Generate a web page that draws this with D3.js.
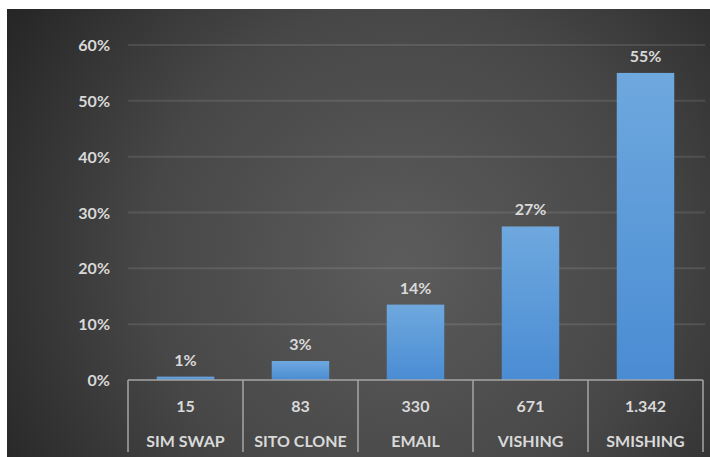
<!DOCTYPE html>
<html><head><meta charset="utf-8">
<script src="https://cdn.jsdelivr.net/npm/d3@7"></script>
<style>html,body{margin:0;padding:0;background:#fff;}svg{display:block;}</style>
</head><body>
<svg id="c" width="710" height="457"></svg>
<script>
const categories = ["SIM SWAP", "SITO CLONE", "EMAIL", "VISHING", "SMISHING"];
const counts = ["15", "83", "330", "671", "1.342"];
const shares = [0.6, 3.4, 13.5, 27.5, 55.0];
const shareLabels = ["1%", "3%", "14%", "27%", "55%"];
const yTicks = [0, 10, 20, 30, 40, 50, 60];

const svg = d3.select("#c");
const W = 710, H = 457;
const defs = svg.append("defs");
const bg = defs.append("radialGradient").attr("id", "bg")
  .attr("gradientUnits", "userSpaceOnUse").attr("cx", 400).attr("cy", 260).attr("r", 460);
bg.append("stop").attr("offset", "0%").attr("stop-color", "#5c5c5c");
bg.append("stop").attr("offset", "55%").attr("stop-color", "#474747");
bg.append("stop").attr("offset", "100%").attr("stop-color", "#262626");
const bar = defs.append("linearGradient").attr("id", "bar").attr("x1", 0).attr("y1", 0).attr("x2", 0).attr("y2", 1);
bar.append("stop").attr("offset", "0%").attr("stop-color", "#6ea8de");
bar.append("stop").attr("offset", "100%").attr("stop-color", "#4a8cd3");

svg.append("rect").attr("x", 7).attr("y", 9).attr("width", W - 7).attr("height", H - 9).attr("fill", "url(#bg)");

const font = "Lato, 'Open Sans', sans-serif";
const txt = "#d9d9d9";

const x = d3.scaleBand().domain(categories).range([128, 703]).paddingInner(0).paddingOuter(0);
const y = d3.scaleLinear().domain([0, 60]).range([380, 45]);

// gridlines
svg.append("g").selectAll("line").data(yTicks.filter(t => t > 0)).join("line")
  .attr("x1", 128).attr("x2", 705)
  .attr("y1", d => y(d)).attr("y2", d => y(d))
  .attr("stroke", "#ffffff").attr("stroke-opacity", 0.1).attr("stroke-width", 2);

// y axis labels
const yAxis = d3.axisLeft(y).tickValues(yTicks).tickFormat(d => d + "%").tickSize(0).tickPadding(0);
const ya = svg.append("g").attr("transform", "translate(110,0)").call(yAxis);
ya.select(".domain").remove();
ya.selectAll("text").attr("fill", txt).attr("font-family", font).attr("font-weight", "bold")
  .attr("font-size", 16).attr("dy", "0.35em");

// bars
const bw = x.bandwidth() * 0.5;
svg.append("g").selectAll("rect").data(categories).join("rect")
  .attr("x", (d) => x(d) + (x.bandwidth() - bw) / 2)
  .attr("width", bw)
  .attr("y", (d, i) => y(shares[i]))
  .attr("height", (d, i) => y(0) - y(shares[i]))
  .attr("fill", "url(#bar)");

// value labels
svg.append("g").selectAll("text").data(categories).join("text")
  .attr("x", d => x(d) + x.bandwidth() / 2)
  .attr("y", (d, i) => y(shares[i]) - 11)
  .attr("text-anchor", "middle").attr("fill", txt).attr("font-family", font)
  .attr("font-weight", "bold").attr("font-size", 16)
  .text((d, i) => shareLabels[i]);

// category table
const tbl = svg.append("g");
tbl.append("line").attr("x1", 128).attr("x2", 703).attr("y1", 380).attr("y2", 380)
  .attr("stroke", "#a6a6a6").attr("stroke-width", 1.5);
const seps = categories.map(c => x(c)).concat([703]);
tbl.selectAll("line.sep").data(seps).join("line").attr("class", "sep")
  .attr("x1", d => d).attr("x2", d => d).attr("y1", 380).attr("y2", 452)
  .attr("stroke", "#a6a6a6").attr("stroke-width", 1.5);
tbl.selectAll("text.cnt").data(categories).join("text").attr("class", "cnt")
  .attr("x", d => x(d) + x.bandwidth() / 2).attr("y", 412)
  .attr("text-anchor", "middle").attr("fill", txt).attr("font-family", font)
  .attr("font-weight", "bold").attr("font-size", 16)
  .text((d, i) => counts[i]);
tbl.selectAll("text.cat").data(categories).join("text").attr("class", "cat")
  .attr("x", d => x(d) + x.bandwidth() / 2).attr("y", 447)
  .attr("text-anchor", "middle").attr("fill", txt).attr("font-family", font)
  .attr("font-weight", "bold").attr("font-size", 16)
  .text(d => d);
</script>
</body></html>
